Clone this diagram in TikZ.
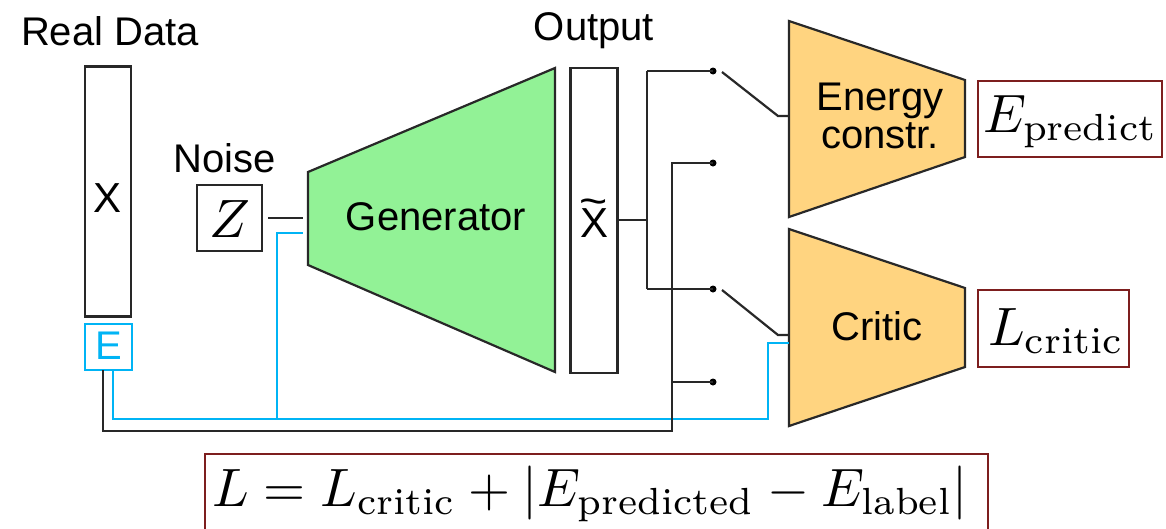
\documentclass[tikz,border=0pt]{standalone}
\usepackage{fontspec}
\setsansfont{Liberation Sans}
\definecolor{linegray}{RGB}{40,40,40}
\definecolor{genfill}{RGB}{146,242,150}
\definecolor{netfill}{RGB}{255,212,128}
\definecolor{ecyan}{RGB}{0,180,245}
\definecolor{lossred}{RGB}{125,30,30}
\newcommand{\bigmath}[2]{\scalebox{#1}{$#2$}}
\tikzset{
  lbl/.style={font=\sffamily\fontsize{40}{38}\selectfont, inner sep=0pt},
  vsym/.style={font=\sffamily\fontsize{42}{40}\selectfont, inner sep=0pt},
  mth/.style={inner sep=0pt},
  vecbox/.style={draw=linegray, line width=2.4pt, fill=white, inner sep=0pt},
  ebox/.style={draw=ecyan, line width=2.2pt, fill=white, inner sep=0pt, text=ecyan},
  lossbox/.style={draw=lossred, line width=2.2pt, fill=white, inner sep=0pt},
  netshape/.style={draw=linegray, line width=2.2pt, line join=miter},
  wire/.style={draw=linegray, line width=2.2pt},
  bwire/.style={draw=ecyan, line width=2.2pt},
  pin/.style={circle, fill=black, inner sep=0pt, minimum size=7pt},
}
\begin{document}
\begin{tikzpicture}[x=1pt, y=-1pt]
\clip (0,0) rectangle (1166,528);
\fill[white] (0,0) rectangle (1166,528);

% real data column and its energy label
\node[lbl, anchor=base] (rdlabel) at (110,45) {Real Data};
\node[vecbox, minimum width=46pt, minimum height=250pt] (xcol) at (108,191.5) {};
\node[vsym] (xsym) at (108,198) {X};
\node[ebox, minimum width=47pt, minimum height=46pt] (ebox) at (108.5,347) {};
\node[lbl, text=ecyan] (esym) at (108.5,346) {E};

% noise input
\node[lbl, anchor=base] (noiselabel) at (225,172) {Noise};
\node[vecbox, minimum width=65pt, minimum height=66pt] (zbox) at (229.5,218) {};
\node[mth] (zsym) at (229.5,219) {\bigmath{5.4}{Z}};

% generator
\coordinate (g1) at (308,172);
\coordinate (g2) at (555,68);
\coordinate (g3) at (555,372);
\coordinate (g4) at (308,265);
\path[netshape, fill=genfill] (g1) -- (g2) -- (g3) -- (g4) -- cycle;
\node[lbl] (genlabel) at (436,217) {Generator};
\coordinate (genz) at (303,218);
\coordinate (gene) at (303,233);

% generated output
\node[lbl, anchor=base] (outlabel) at (594,40) {Output};
\node[vecbox, minimum width=47pt, minimum height=305pt] (outcol) at (594,220.5) {};
\node[vsym, anchor=base] (xtsym) at (594,237)
  {\rlap{\hspace{-0.01em}\raisebox{0.52em}{\scalebox{1.15}[1]{\textasciitilde}}}X};

% energy constraint network
\coordinate (e1) at (789,21);
\coordinate (e2) at (965,80);
\coordinate (e3) at (965,157);
\coordinate (e4) at (789,217);
\path[netshape, fill=netfill] (e1) -- (e2) -- (e3) -- (e4) -- cycle;
\node[lbl, align=center, anchor=base] (enlabel) at (880,148) {Energy\\constr.};
\coordinate (ein) at (789,116);

% critic network
\coordinate (c1) at (789,229);
\coordinate (c2) at (965,288);
\coordinate (c3) at (965,367);
\coordinate (c4) at (789,426);
\path[netshape, fill=netfill] (c1) -- (c2) -- (c3) -- (c4) -- cycle;
\node[lbl] (crlabel) at (877,326) {Critic};
\coordinate (cin) at (789,335);
\coordinate (cine) at (789,343);

% outputs
\node[lossbox, minimum width=184pt, minimum height=76pt] (epred) at (1070,119) {};
\node[mth, anchor=base west] (epredtxt) at (983,132) {\bigmath{5.4}{E_{\mathrm{predict}}}};
\node[lossbox, minimum width=151pt, minimum height=77pt] (lcrit) at (1053.5,328.5) {};
\node[mth, anchor=base west] (lcrittxt) at (988,345) {\bigmath{5.4}{L_{\mathrm{critic}}}};

% total loss
\node[lossbox, minimum width=783pt, minimum height=110pt] (loss) at (596.5,509) {};
\node[mth, anchor=base] (losstxt) at (590,506)
  {\bigmath{5.4}{L = L_{\mathrm{critic}} + |E_{\mathrm{predicted}} - E_{\mathrm{label}}|}};

% switch contacts
\node[pin] (p1) at (713,71) {};
\node[pin] (p2) at (713,163) {};
\node[pin] (p3) at (713,289) {};
\node[pin] (p4) at (713,382) {};

% noise into generator
\coordinate (zout) at (268,218);
\draw[wire] (zout) -- (genz);

% energy label wires (cyan)
\coordinate (eb1) at (113,370);
\coordinate (eb2) at (113,419);
\coordinate (ej) at (277,419);
\coordinate (eg) at (277,233);
\coordinate (ec1) at (768,419);
\coordinate (ec2) at (768,343);
\draw[bwire] (eb1) -- (eb2) -- (ec1) -- (ec2) -- (cine);
\draw[bwire] (ej) -- (eg) -- (gene);

% real data wire
\coordinate (xb1) at (103,370);
\coordinate (xb2) at (103,431);
\coordinate (xb3) at (672,431);
\coordinate (xb4) at (672,163);
\coordinate (xb5) at (672,382);
\draw[wire] (xb1) -- (xb2) -- (xb3) -- (xb4) -- (p2.center);
\draw[wire] (xb5) -- (p4.center);

% generated output wires
\coordinate (o1) at (617,220);
\coordinate (o2) at (647,220);
\coordinate (o3) at (647,71);
\coordinate (o4) at (647,289);
\draw[wire] (o1) -- (o2);
\draw[wire] (o3) -- (o4);
\draw[wire] (o3) -- (p1.center);
\draw[wire] (o4) -- (p3.center);

% switch arms
\coordinate (s1) at (722,72);
\coordinate (s1k) at (778,116);
\coordinate (s2) at (722,290);
\coordinate (s2k) at (778,335);
\draw[wire] (s1) -- (s1k) -- (ein);
\draw[wire] (s2) -- (s2k) -- (cin);
\end{tikzpicture}
\end{document}
